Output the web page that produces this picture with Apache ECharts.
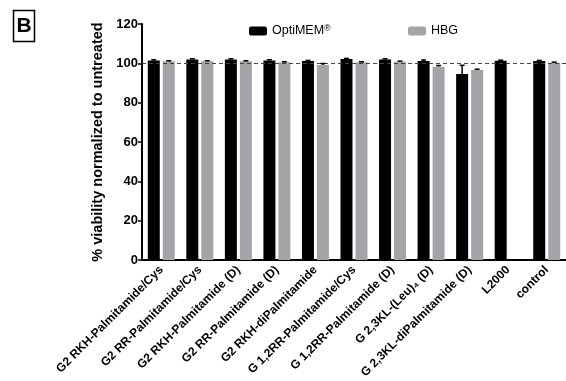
<!DOCTYPE html>
<html><head><meta charset="utf-8">
<script src="https://cdn.jsdelivr.net/npm/echarts@6/dist/echarts.min.js"></script>
<style>html,body{margin:0;padding:0;background:#fff}#c{width:566px;height:381px}</style>
</head><body><div id="c"></div>
<script>
const categories = ['G2 RKH-Palmitamide/Cys','G2 RR-Palmitamide/Cys','G2 RKH-Palmitamide (D)','G2 RR-Palmitamide (D)','G2 RKH-diPalmitamide','G 1,2RR-Palmitamide/Cys','G 1,2RR-Palmitamide (D)','G 2,3KL-(Leu)\u2084 (D)','G 2,3KL-diPalmitamide (D)','L2000','control'];
const optiValues = [101.5, 102, 102, 101.5, 101.2, 102.2, 102, 101.2, 94.6, 101.3, 101.2];
const optiErr = [0.3, 0.3, 0.3, 0.3, 0.3, 0.3, 0.3, 0.5, 4.4, 0.3, 0.3];
const hbgValues = [101, 101, 101, 100.5, 99.1, 100.5, 100.8, 98.3, 96.6, null, 100.3];
const hbgErr = [0.3, 0.3, 0.3, 0.3, 0.8, 0.3, 0.3, 0.6, 0.4, 0, 0.3];
const yTicks = [0, 20, 40, 60, 80, 100, 120];

const BW = 12, GAP = 3;
const FONT = 'Liberation Sans, Arial, sans-serif';
function errSeries(vals, errs, offset) {
  return {
    type: 'custom', z: 5, silent: true,
    data: vals.map((v, i) => [i, v, errs[i]]).filter(d => d[1] != null),
    renderItem: function (params, api) {
      const i = api.value(0), v = api.value(1), e = api.value(2);
      const p0 = api.coord([i, v]);
      const p1 = api.coord([i, v + e]);
      const x = p0[0] + offset;
      const style = { stroke: '#000', lineWidth: 1.5 };
      return { type: 'group', children: [
        { type: 'line', shape: { x1: x, y1: p0[1], x2: x, y2: p1[1] }, style },
        { type: 'line', shape: { x1: x - 2.5, y1: p1[1], x2: x + 2.5, y2: p1[1] }, style }
      ]};
    }
  };
}

const chart = echarts.init(document.getElementById('c'));
chart.setOption({
  animation: false,
  textStyle: { fontFamily: FONT },
  graphic: [
    { type: 'rect', shape: { x: 13.5, y: 10.5, width: 21, height: 31 }, style: { fill: 'none', stroke: '#000', lineWidth: 1.5 } },
    { type: 'text', x: 24, y: 26.5, style: { text: 'B', fontSize: 21, fontWeight: 'bold', fontFamily: FONT, fill: '#000', align: 'center', verticalAlign: 'middle' } }
  ],
  legend: [
    { data: ['OptiMEM'], left: 249, top: 24, padding: 0, itemWidth: 18, itemHeight: 9, icon: 'roundRect',
      formatter: () => '{t|OptiMEM}{s|\u00AE}',
      textStyle: { fontSize: 12.5, color: '#000', fontFamily: FONT, lineHeight: 14,
        rich: { t: { fontSize: 12.5, lineHeight: 14, fontFamily: FONT }, s: { fontSize: 9, lineHeight: 14, verticalAlign: 'top', fontFamily: FONT } } } },
    { data: ['HBG'], left: 408, top: 24, padding: 0, itemWidth: 18, itemHeight: 9, icon: 'roundRect',
      textStyle: { fontSize: 12.5, color: '#000', fontFamily: FONT, lineHeight: 14 } }
  ],
  grid: { left: 142, top: 24, width: 428, bottom: 121, containLabel: false },
  xAxis: {
    type: 'category', data: categories,
    axisLine: { lineStyle: { color: '#000', width: 2 } },
    axisTick: { alignWithLabel: true, length: 5, lineStyle: { color: '#000', width: 1.5 } },
    axisLabel: { rotate: 45, interval: 0, margin: 8, fontSize: 12, fontWeight: 'bold', color: '#000' }
  },
  yAxis: {
    type: 'value', min: 0, max: 120, interval: 20,
    name: '% viability normalized to untreated', nameLocation: 'middle', nameGap: 24,
    nameTextStyle: { fontSize: 14.5, fontWeight: 'bold', color: '#000' },
    axisLine: { show: true, lineStyle: { color: '#000', width: 2 } },
    axisTick: { show: true, length: 4, lineStyle: { color: '#000', width: 1.5 } },
    axisLabel: { fontSize: 13, fontWeight: 'bold', color: '#000', margin: 4,
      formatter: v => yTicks.includes(v) ? String(v) : '' },
    splitLine: { show: false }
  },
  series: [
    { name: 'OptiMEM', type: 'bar', data: optiValues, barWidth: BW, barGap: '25%', barCategoryGap: '30%',
      itemStyle: { color: '#000' },
      markLine: { silent: true, symbol: 'none', label: { show: false },
        lineStyle: { type: [4, 3], color: '#444', width: 1.2 }, data: [{ yAxis: 100 }] } },
    { name: 'HBG', type: 'bar', data: hbgValues, barWidth: BW, itemStyle: { color: '#a3a3a8' } },
    errSeries(optiValues, optiErr, -(BW + GAP) / 2),
    errSeries(hbgValues, hbgErr, (BW + GAP) / 2)
  ]
});
</script></body></html>
